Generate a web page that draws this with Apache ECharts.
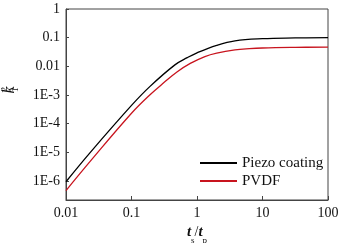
<!DOCTYPE html>
<html><head><meta charset="utf-8">
<script src="https://cdn.jsdelivr.net/npm/echarts@6/dist/echarts.min.js"></script>
<style>html,body{margin:0;padding:0;background:#fff}#c{width:342px;height:243px}</style>
</head><body><div id="c"></div>
<script>
var seriesNames = ['Piezo coating', 'PVDF'];
var xTicks = [0.01, 0.1, 1, 10, 100];
var yTickValues = [1e-6, 1e-5, 1e-4, 1e-3, 0.01, 0.1, 1];
var yTicks = ['1E-6', '1E-5', '1E-4', '1E-3', '0.01', '0.1', '1'];
var yMin = 2.15e-7, yMax = 1;
var piezoX = [0.01, 0.023, 0.1, 0.19, 0.46, 0.71, 1.0, 2.0, 3.8, 10, 31.6, 100];
var piezoY = [9.3e-7, 9.3e-6, 4.3e-4, 1.95e-3, 0.0112, 0.020, 0.0295, 0.0537, 0.0776, 0.0923, 0.0977, 0.1];
var pvdfX = [0.01, 0.0232, 0.1, 0.19, 0.316, 0.5, 0.79, 1.32, 2.0, 3.8, 6.3, 10, 31.6, 100];
var pvdfY = [4.6e-7, 4.7e-6, 2.3e-4, 1.0e-3, 2.75e-3, 6.46e-3, 0.0126, 0.0219, 0.0288, 0.0372, 0.0412, 0.0435, 0.0457, 0.0468];

function pairs(xs, ys){ return xs.map(function(x,i){ return [x, ys[i]]; }); }
var font = 'Liberation Serif';
var chart = echarts.init(document.getElementById('c'));
chart.setOption({
  animation: false,
  backgroundColor: '#fff',
  grid: {left: 66, right: 14, top: 9, bottom: 43, show: true, borderColor: '#444', borderWidth: 1,
         containLabel: false, outerBoundsMode: 'none'},
  legend: {
    orient: 'vertical', left: 195, top: 150, itemWidth: 37, itemHeight: 2, itemGap: 2,
    icon: 'rect',
    data: seriesNames,
    textStyle: {fontFamily: font, fontSize: 15, color: '#111', lineHeight: 16}
  },
  xAxis: {
    type: 'log', logBase: 10, min: xTicks[0], max: xTicks[xTicks.length-1],
    axisLine: {lineStyle: {color: '#444'}},
    axisTick: {inside: true, length: 4, lineStyle: {color: '#444'}},
    splitLine: {show: false},
    axisLabel: {fontFamily: font, fontSize: 14, color: '#111', margin: 6,
      formatter: function(v){ return String(v); }},
    name: '{i|t}{s|s}{n|/}{i|t}{s|p}', nameLocation: 'middle', nameGap: 23,
    nameTextStyle: {rich: {
      i: {fontFamily: font, fontSize: 15, fontStyle: 'italic', fontWeight: 'bold', color: '#111', lineHeight: 20, verticalAlign: 'top'},
      n: {fontFamily: font, fontSize: 14, color: '#111', lineHeight: 20, verticalAlign: 'top'},
      s: {fontFamily: font, fontSize: 9, color: '#111', lineHeight: 20, verticalAlign: 'bottom'}
    }}
  },
  yAxis: {
    type: 'log', logBase: 10, min: yMin, max: yMax,
    axisLine: {lineStyle: {color: '#444'}},
    axisTick: {inside: true, length: 3, lineStyle: {color: '#444'}, customValues: yTickValues},
    splitLine: {show: false},
    axisLabel: {fontFamily: font, fontSize: 14, color: '#111', margin: 6, customValues: yTickValues,
      formatter: function(v){
        var idx = Math.round(Math.log10(v)) + 6;
        return (idx >= 0 && idx < yTicks.length) ? yTicks[idx] : '';
      }},
    name: '{i|k}{p|2}{b|1}', nameLocation: 'middle', nameGap: 46, nameRotate: 90,
    nameTextStyle: {padding: [0, 0, 0, 28], rich: {
      i: {fontFamily: font, fontSize: 16, fontStyle: 'italic', color: '#111', lineHeight: 20},
      p: {fontFamily: font, fontSize: 9, color: '#111', lineHeight: 20, verticalAlign: 'top', padding: [0,0,0,-5]},
      b: {fontFamily: font, fontSize: 9, color: '#111', lineHeight: 20, verticalAlign: 'bottom', padding: [0,0,0,-5]}
    }}
  },
  series: [
    {name: seriesNames[0], type: 'line', data: pairs(piezoX, piezoY), smooth: 0.4, symbol: 'none',
     lineStyle: {color: '#000', width: 1.3}, itemStyle: {color: '#000'}},
    {name: seriesNames[1], type: 'line', data: pairs(pvdfX, pvdfY), smooth: 0.4, symbol: 'none',
     lineStyle: {color: '#c8141e', width: 1.3}, itemStyle: {color: '#c8141e'}}
  ]
});
</script></body></html>
